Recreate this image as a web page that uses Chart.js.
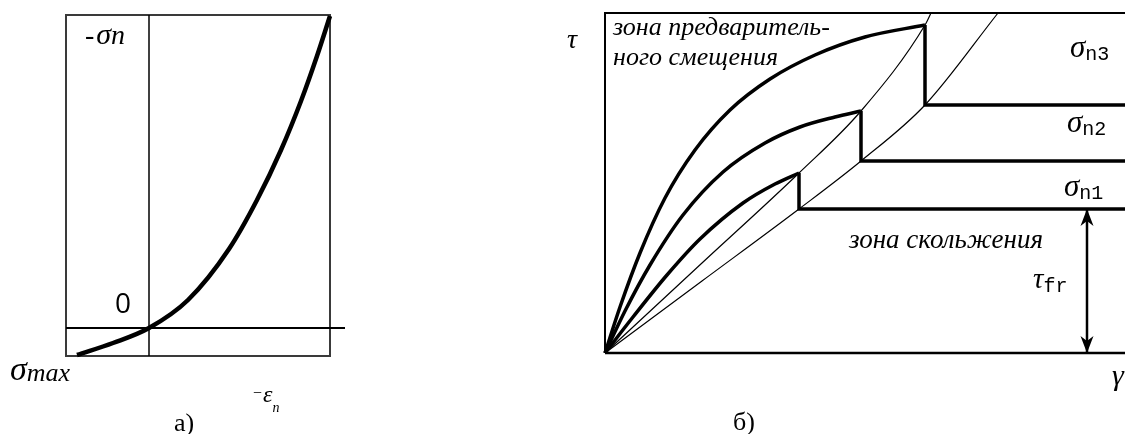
<!DOCTYPE html>
<html>
<head>
<meta charset="utf-8">
<script src="https://cdn.jsdelivr.net/npm/chart.js@4/dist/chart.umd.min.js"></script>
<style>
  body { margin: 0; background: #fff; }
  #wrap { position: relative; width: 1125px; height: 434px; overflow: hidden; background: #fff; }
  canvas { position: absolute; top: 0; }
  #left { left: 0; }
  #right { left: 540px; }
</style>
</head>
<body>
<div id="wrap">
  <canvas id="left" width="360" height="434"></canvas>
  <canvas id="right" width="585" height="434"></canvas>
</div>
<script>
// а) normal stress vs normal strain
const strainA = [-72, -36, 0, 39, 80, 108, 132, 152, 168, 181];
const stressA = [-27, -15, 0, 28, 79, 128, 178, 227, 272, 312];

// б) shear stress vs shear strain for three normal loads
const gammaN1 = [0, 28, 62, 95, 138, 170, 194];
const tauN1   = [0, 36, 78, 114, 150, 169, 180];
const gammaN2 = [0, 20, 45, 78, 118, 160, 195, 230, 256];
const tauN2   = [0, 42, 88, 138, 181, 210, 226, 236, 242];
const gammaN3 = [0, 15, 35, 60, 90, 125, 165, 210, 260, 320];
const tauN3   = [0, 46, 100, 155, 203, 243, 274, 298, 316, 328];

// sliding levels (vertical drop then horizontal)
const stepN1X = [194, 194, 520];
const stepN1Y = [180, 144, 144];
const stepN2X = [256, 256, 520];
const stepN2Y = [242, 192, 192];
const stepN3X = [320, 320, 520];
const stepN3Y = [328, 248, 248];

// thin boundaries through the peaks and through the corners
const peakLineX   = [0, 97, 194, 256, 320, 326];
const peakLineY   = [0, 90, 180, 242, 328, 340];
const cornerLineX = [0, 97, 194, 256, 320, 393];
const cornerLineY = [0, 72, 144, 192, 248, 340];

// tau_fr arrow
const arrowX = [482, 482];
const arrowY = [0, 144];

const SERIF = "'Liberation Serif', 'Times New Roman', serif";
const MONO = "'Liberation Mono', monospace";

function pts(xs, ys) {
  return xs.map((x, i) => ({ x: x, y: ys[i] }));
}

function line(xs, ys, width, curved) {
  return {
    data: pts(xs, ys),
    showLine: true,
    borderColor: '#000',
    borderWidth: width,
    pointRadius: 0,
    tension: 0,
    cubicInterpolationMode: curved ? 'monotone' : 'default',
    borderJoinStyle: 'miter',
    clip: false
  };
}

function drawParts(ctx, x, y, parts) {
  ctx.fillStyle = '#000';
  ctx.textBaseline = 'alphabetic';
  for (const p of parts) {
    ctx.font = p[1];
    ctx.fillText(p[0], x, y + (p[2] || 0));
    x += ctx.measureText(p[0]).width + (p[3] || 0);
  }
}

function baseOptions(pad, xr, yr) {
  return {
    responsive: false,
    animation: false,
    layout: { padding: pad },
    plugins: { legend: { display: false }, tooltip: { enabled: false } },
    scales: {
      x: { type: 'linear', min: xr[0], max: xr[1], display: false },
      y: { type: 'linear', min: yr[0], max: yr[1], display: false }
    }
  };
}

// ---------- а) ----------
const leftFrame = {
  id: 'leftFrame',
  beforeDatasetsDraw(chart) {
    const ctx = chart.ctx, a = chart.chartArea;
    const x0 = chart.scales.x.getPixelForValue(0);
    const y0 = chart.scales.y.getPixelForValue(0);
    ctx.save();
    ctx.strokeStyle = '#3a3a3a';
    ctx.lineWidth = 2;
    ctx.strokeRect(a.left, a.top, a.right - a.left, a.bottom - a.top);
    ctx.strokeStyle = '#000';
    ctx.lineWidth = 1.5;
    ctx.beginPath();
    ctx.moveTo(x0, a.top);
    ctx.lineTo(x0, a.bottom);
    ctx.stroke();
    ctx.lineWidth = 2;
    ctx.beginPath();
    ctx.moveTo(a.left, y0);
    ctx.lineTo(a.right + 15, y0);
    ctx.stroke();
    ctx.restore();
  },
  afterDraw(chart) {
    const ctx = chart.ctx;
    ctx.save();
    drawParts(ctx, 85, 44, [['-', '28px ' + SERIF, 0, 2], ['σ', 'italic 30px ' + SERIF], ['n', 'italic 28px ' + SERIF]]);
    drawParts(ctx, 10, 380, [['σ', 'italic 34px ' + SERIF], ['max', 'italic 26px ' + SERIF, 1]]);
    drawParts(ctx, 115, 313, [['0', "28px 'Open Sans', sans-serif"]]);
    drawParts(ctx, 253, 402, [['−', '16px ' + SERIF, -4, 1], ['ε', 'italic 24px ' + SERIF], ['n', 'italic 14px ' + SERIF, 10]]);
    drawParts(ctx, 174, 431, [['а)', '26px ' + SERIF]]);
    ctx.restore();
  }
};

new Chart(document.getElementById('left'), {
  type: 'scatter',
  data: { datasets: [line(strainA, stressA, 4.5, true)] },
  options: baseOptions({ left: 66, right: 30, top: 15, bottom: 78 }, [-83, 181], [-28, 313]),
  plugins: [leftFrame]
});

// ---------- б) ----------
function arrowHead(ctx, x, y, dir) {
  ctx.beginPath();
  ctx.moveTo(x, y);
  ctx.lineTo(x - 6.5, y - dir * 17);
  ctx.lineTo(x, y - dir * 12);
  ctx.lineTo(x + 6.5, y - dir * 17);
  ctx.closePath();
  ctx.fill();
}

const OFF = 540;
const rightFrame = {
  id: 'rightFrame',
  beforeDatasetsDraw(chart) {
    const ctx = chart.ctx, a = chart.chartArea;
    ctx.save();
    ctx.strokeStyle = '#000';
    ctx.lineWidth = 2;
    ctx.beginPath();
    ctx.moveTo(a.right, a.top);
    ctx.lineTo(a.left, a.top);
    ctx.lineTo(a.left, a.bottom);
    ctx.stroke();
    ctx.lineWidth = 2.5;
    ctx.beginPath();
    ctx.moveTo(a.left, a.bottom);
    ctx.lineTo(a.right, a.bottom);
    ctx.stroke();
    ctx.restore();
  },
  afterDraw(chart) {
    const ctx = chart.ctx;
    const sx = chart.scales.x, sy = chart.scales.y;
    ctx.save();
    ctx.fillStyle = '#000';
    arrowHead(ctx, sx.getPixelForValue(arrowX[0]), sy.getPixelForValue(arrowY[0]), 1);
    arrowHead(ctx, sx.getPixelForValue(arrowX[1]), sy.getPixelForValue(arrowY[1]), -1);
    drawParts(ctx, 567 - OFF, 48, [['τ', 'italic 28px ' + SERIF]]);
    drawParts(ctx, 613 - OFF, 35, [['зона предваритель-', 'italic 26px ' + SERIF]]);
    drawParts(ctx, 613 - OFF, 65, [['ного смещения', 'italic 26px ' + SERIF]]);
    drawParts(ctx, 849 - OFF, 248, [['зона скольжения', 'italic 27px ' + SERIF]]);
    drawParts(ctx, 1070 - OFF, 57, [['σ', 'italic 31px ' + SERIF], ['n3', '20px ' + MONO, 3]]);
    drawParts(ctx, 1067 - OFF, 132, [['σ', 'italic 31px ' + SERIF], ['n2', '20px ' + MONO, 3]]);
    drawParts(ctx, 1064 - OFF, 196, [['σ', 'italic 31px ' + SERIF], ['n1', '20px ' + MONO, 3]]);
    drawParts(ctx, 1033 - OFF, 288, [['τ', 'italic 29px ' + SERIF], ['fr', '20px ' + MONO, 4]]);
    drawParts(ctx, 1112 - OFF, 385, [['γ', 'italic 30px ' + SERIF]]);
    drawParts(ctx, 733 - OFF, 430, [['б)', '26px ' + SERIF]]);
    ctx.restore();
  }
};

new Chart(document.getElementById('right'), {
  type: 'scatter',
  data: {
    datasets: [
      line(peakLineX, peakLineY, 1.2, true),
      line(cornerLineX, cornerLineY, 1.2, true),
      line(gammaN1, tauN1, 3.5, true),
      line(gammaN2, tauN2, 3.5, true),
      line(gammaN3, tauN3, 3.5, true),
      line(stepN1X, stepN1Y, 3.5, false),
      line(stepN2X, stepN2Y, 3.5, false),
      line(stepN3X, stepN3Y, 3.5, false),
      line(arrowX, arrowY, 2.5, false)
    ]
  },
  options: baseOptions({ left: 65, right: 0, top: 13, bottom: 81 }, [0, 520], [0, 340]),
  plugins: [rightFrame]
});
</script>
</body>
</html>
